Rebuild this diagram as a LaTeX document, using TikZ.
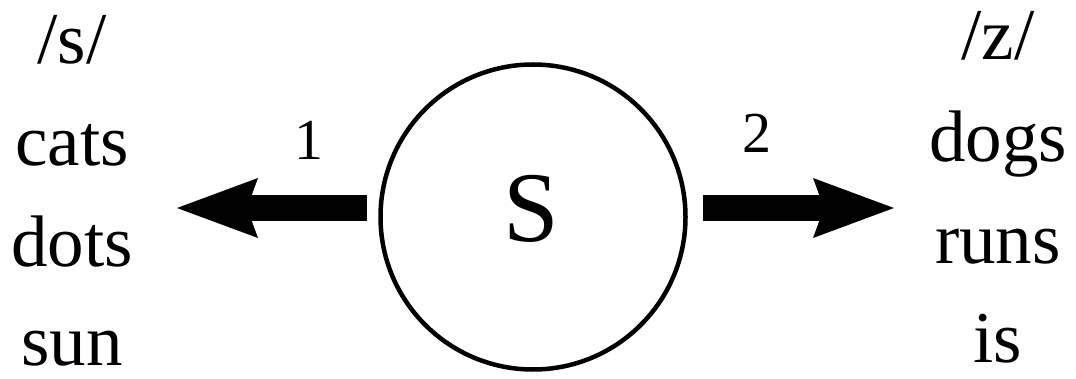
\documentclass[tikz,border=0pt]{standalone}
\usepackage{fontspec}
\setmainfont{Liberation Serif}
\usepackage{tikz}
\usetikzlibrary{arrows.meta, positioning}

\begin{document}
\begin{tikzpicture}[
  x=1pt, y=-1pt,
  word/.style={font=\fontsize{73}{80}\selectfont, anchor=base, inner sep=0pt},
  num/.style={font=\fontsize{58}{64}\selectfont, anchor=base, inner sep=0pt},
  ring/.style={circle, draw, line width=4.5pt, minimum size=305pt, inner sep=0pt},
  fat/.style={-{Stealth[length=81pt, width=60pt, inset=11pt, line width=0pt]}, line width=26pt},
]
  \useasboundingbox (0,0) rectangle (1076,379);

  %% centre
  \node[ring] (sCirc) at (533,217) {};
  \node[font=\fontsize{100}{110}\selectfont, anchor=base, inner sep=0pt] (sLbl) at (531,242) {S};

  %% left column: /s/
  \node[word] (sHead) at (72,64)  {/s/};
  \node[word] (sCats) at (72,166) {cats};
  \node[word] (sDots) at (72,267) {dots};
  \node[word] (sSun)  at (72,365) {sun};

  %% right column: /z/
  \node[word] (zHead) at (998,60)  {/z/};
  \node[word] (zDogs) at (998,162) {dogs};
  \node[word] (zRuns) at (998,264) {runs};
  \node[word] (zIs)   at (998,362) {is};

  %% arrows
  \coordinate (lFrom) at (367,208);
  \coordinate (lTip)  at (177,208);
  \coordinate (rFrom) at (703,208);
  \coordinate (rTip)  at (894,208);
  \draw[fat] (lFrom) -- (lTip);
  \draw[fat] (rFrom) -- (rTip);
  \node[num] (oneLbl) at (309,160) {1};
  \node[num] (twoLbl) at (757,153) {2};
\end{tikzpicture}
\end{document}
